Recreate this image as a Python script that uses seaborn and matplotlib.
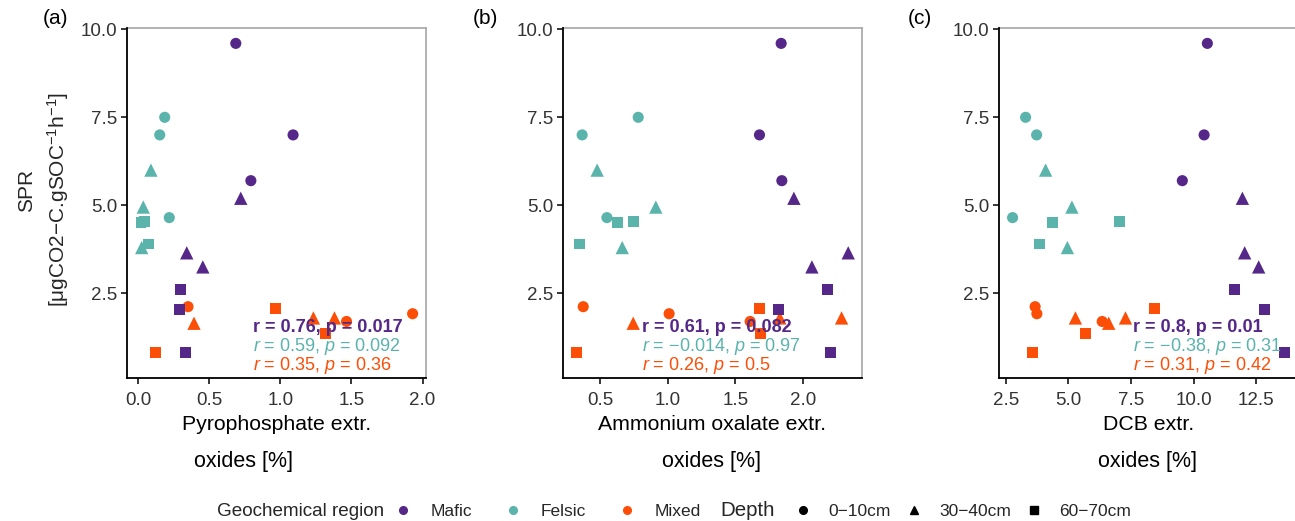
import matplotlib
matplotlib.use("Agg")
import matplotlib.pyplot as plt
from matplotlib.lines import Line2D
import seaborn as sns
import pandas as pd
import numpy as np

# ---------------- data ----------------
regions = ["Mafic"] * 9 + ["Felsic"] * 9 + ["Mixed"] * 9
depth_cycle = ["0−10cm"] * 3 + ["30−40cm"] * 3 + ["60−70cm"] * 3
depths = depth_cycle * 3
spr = [9.6, 7.0, 5.7, 5.2, 3.65, 3.25, 2.6, 2.05, 0.82,
       7.5, 7.0, 4.65, 6.0, 4.95, 3.8, 4.55, 4.52, 3.9,
       2.12, 1.92, 1.70, 1.65, 1.8, 1.8, 2.06, 1.37, 0.82]
pyro = [0.686, 1.089, 0.792, 0.721, 0.341, 0.454, 0.296, 0.287, 0.331,
        0.186, 0.151, 0.218, 0.089, 0.035, 0.024, 0.042, 0.019, 0.073,
        0.35, 1.93, 1.465, 0.392, 1.232, 1.38, 0.965, 1.32, 0.123]
oxal = [1.838, 1.678, 1.843, 1.932, 2.333, 2.065, 2.178, 1.816, 2.205,
        0.783, 0.369, 0.552, 0.48, 0.913, 0.665, 0.749, 0.628, 0.352,
        0.377, 1.011, 1.609, 0.746, 1.828, 2.284, 1.678, 1.688, 0.328]
dcb = [10.55, 10.42, 9.55, 11.95, 12.04, 12.6, 11.63, 12.84, 13.62,
       3.29, 3.73, 2.77, 4.09, 5.14, 4.96, 7.05, 4.37, 3.83,
       3.67, 3.74, 6.35, 6.61, 5.28, 7.28, 8.45, 5.68, 3.57]

region_levels = ["Mafic", "Felsic", "Mixed"]
depth_levels = ["0−10cm", "30−40cm", "60−70cm"]
palette = {"Mafic": "#542788", "Felsic": "#5ab4ac", "Mixed": "#FC4E07"}
markers = {"0−10cm": "o", "30−40cm": "^", "60−70cm": "s"}
marker_sizes = {"0−10cm": 64, "30−40cm": 92, "60−70cm": 62}

panel_vars = ["pyro", "oxal", "dcb"]
panel_tags = ["(a)", "(b)", "(c)"]
xlabels1 = ["Pyrophosphate extr.", "Ammonium oxalate extr.", "DCB extr."]
xlabel2 = "oxides [%]"
xticks = [[0.0, 0.5, 1.0, 1.5, 2.0], [0.5, 1.0, 1.5, 2.0], [2.5, 5.0, 7.5, 10.0, 12.5]]
yticks = [2.5, 5.0, 7.5, 10.0]

stats = [
    ["r = 0.76, p = 0.017", "$\\it{r}$ = 0.59, $\\it{p}$ = 0.092", "$\\it{r}$ = 0.35, $\\it{p}$ = 0.36"],
    ["r = 0.61, p = 0.082", "$\\it{r}$ = −0.014, $\\it{p}$ = 0.97", "$\\it{r}$ = 0.26, $\\it{p}$ = 0.5"],
    ["r = 0.8, p = 0.01", "$\\it{r}$ = −0.38, $\\it{p}$ = 0.31", "$\\it{r}$ = 0.31, $\\it{p}$ = 0.42"],
]
stat_x = [0.81, 0.81, 7.56]
stat_y = [1.40, 0.875, 0.32]

df = pd.DataFrame({"region": regions, "depth": depths, "spr": spr,
                   "pyro": pyro, "oxal": oxal, "dcb": dcb})

# ---------------- style ----------------
sns.set_theme(style="white")
plt.rcParams["font.family"] = ["Liberation Sans", "DejaVu Sans"]
plt.rcParams["mathtext.fontset"] = "custom"
plt.rcParams["mathtext.rm"] = "Liberation Sans"
plt.rcParams["mathtext.it"] = "Liberation Sans:italic"
plt.rcParams["mathtext.bf"] = "Liberation Sans:bold"

W, H = 1295, 521
fig = plt.figure(figsize=(W / 100, H / 100), dpi=100)
fig.patch.set_facecolor("white")

lefts = [127.4, 563.0, 999.0]
tag_x = [43, 473, 908]
pw = 298.8
top, bot = 28.0, 378.0
tick_col = "#333333"

def xlims(v):
    lo, hi = min(v), max(v)
    r = hi - lo
    return lo - 0.05 * r, hi + 0.05 * r

ylim = (0.094, 10.037)

for i, var in enumerate(panel_vars):
    ax = fig.add_axes([lefts[i] / W, 1 - bot / H, pw / W, (bot - top) / H])
    for d in depth_levels:
        sub = df[df["depth"] == d]
        sns.scatterplot(data=sub, x=var, y="spr", hue="region",
                        hue_order=region_levels, palette=palette,
                        marker=markers[d], s=marker_sizes[d], linewidth=0,
                        legend=False, ax=ax, zorder=3)
    ax.set_xlim(*xlims(df[var]))
    ax.set_ylim(*ylim)
    ax.set_xticks(xticks[i])
    ax.set_xticklabels([f"{t:.1f}" for t in xticks[i]])
    ax.set_yticks(yticks)
    ax.set_yticklabels([f"{t:.1f}" for t in yticks])
    ax.tick_params(axis="both", direction="out", length=4, width=1.1,
                   color="black", labelsize=13.5, labelcolor=tick_col, pad=3,
                   bottom=True, left=True)
    ax.tick_params(axis="x", pad=6)
    ax.set_xlabel("")
    ax.set_ylabel("")
    for s in ["top", "right"]:
        ax.spines[s].set_color("#a6a6a6")
        ax.spines[s].set_linewidth(1.2)
    for s in ["left", "bottom"]:
        ax.spines[s].set_color("black")
        ax.spines[s].set_linewidth(1.3)
        ax.spines[s].set_zorder(5)
    cols = [palette["Mafic"], palette["Felsic"], palette["Mixed"]]
    for j in range(3):
        ax.text(stat_x[i], stat_y[j], stats[i][j], color=cols[j],
                fontsize=13.0, fontweight="bold" if j == 0 else "normal",
                ha="left", va="baseline", zorder=4)
    cx = (lefts[i] + pw / 2) / W
    fig.text(tag_x[i] / W, 1 - 19 / H, panel_tags[i], fontsize=15,
             ha="left", va="center", color="black")
    fig.text(cx, 1 - 425 / H, xlabels1[i], fontsize=15.3, ha="center",
             va="center", color="black")
x2_centers = [243, 712, 1147]
for i in range(3):
    fig.text(x2_centers[i] / W, 1 - 462 / H, xlabel2, fontsize=15.5,
             ha="center", va="center", color="black")

# y label
fig.text(27 / W, 1 - 190 / H, "SPR", rotation=90, fontsize=15,
         ha="center", va="center")
fig.text(58 / W, 1 - 200 / H, "[μgCO2−C.gSOC$^{-1}$h$^{-1}$]", rotation=90,
         fontsize=15, ha="center", va="center")

# legends
fs_leg = 12.5
fig.text(217 / W, 1 - 511 / H, "Geochemical region", fontsize=13.6,
         ha="left", va="center")
h1 = [Line2D([], [], marker="o", color=palette[r], linestyle="", markersize=5.5)
      for r in region_levels]
fig.legend(h1, region_levels, loc="center left",
           bbox_to_anchor=(382 / W, 1 - 511 / H), ncol=3, frameon=False,
           fontsize=fs_leg, handlelength=1.0, handletextpad=1.1,
           columnspacing=1.85, borderpad=0.2, borderaxespad=0.5)
fig.text(720 / W, 1 - 511 / H, "Depth", fontsize=14.8, ha="left", va="center")
h2 = [Line2D([], [], marker=markers[d], color="black", linestyle="", markersize=5.5)
      for d in depth_levels]
fig.legend(h2, depth_levels, loc="center left",
           bbox_to_anchor=(782 / W, 1 - 511 / H), ncol=3, frameon=False,
           fontsize=fs_leg, handlelength=1.0, handletextpad=0.95,
           columnspacing=0.85, borderpad=0.2, borderaxespad=0.5)

fig.savefig("out.png", dpi=100)
